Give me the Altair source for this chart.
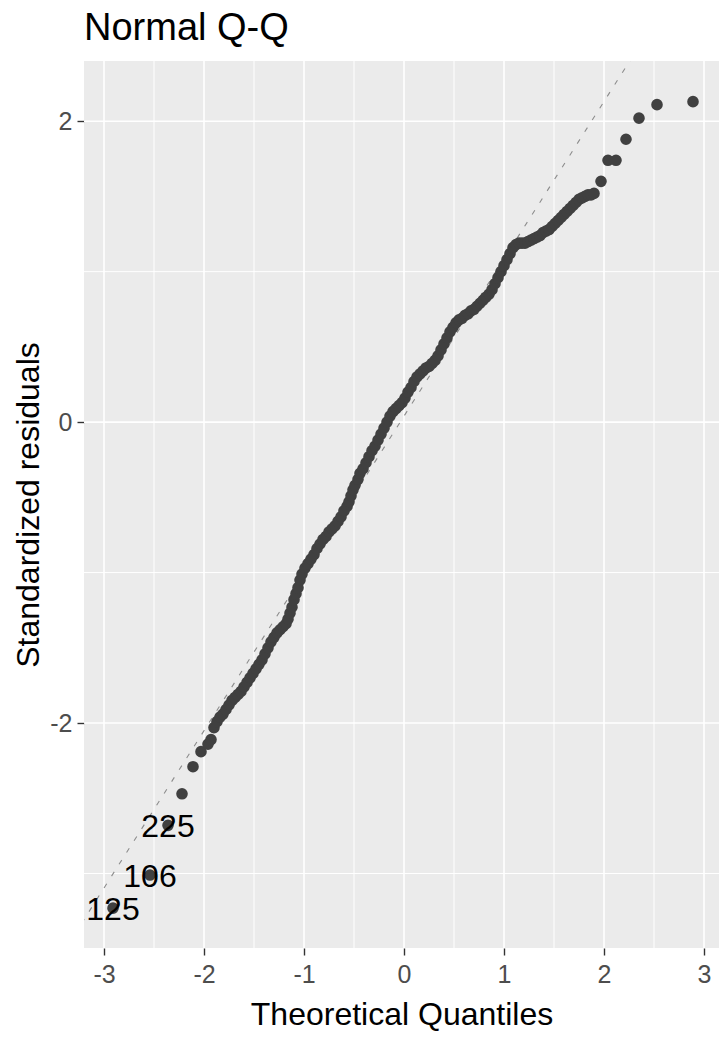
import altair as alt
import pandas as pd

# Theoretical quantiles (x) and standardized residuals (y)
qx = [-2.91, -2.54, -2.36, -2.22, -2.11, -2.03, -1.96, -1.93,
      -1.90, -1.87, -1.84, -1.81, -1.78, -1.75, -1.72, -1.69, -1.66, -1.63,
      -1.60, -1.57, -1.54, -1.51, -1.48, -1.45, -1.42, -1.39, -1.36, -1.33,
      -1.30, -1.27, -1.24, -1.21, -1.18, -1.16, -1.14, -1.12, -1.10, -1.08,
      -1.06, -1.04, -1.02, -0.99, -0.96, -0.93, -0.90, -0.87, -0.84, -0.81,
      -0.78, -0.75, -0.72, -0.69, -0.66, -0.63, -0.60, -0.57, -0.55, -0.53,
      -0.51, -0.49, -0.46, -0.44, -0.41, -0.38, -0.35, -0.32, -0.29, -0.26,
      -0.23, -0.20, -0.17, -0.14, -0.11, -0.08, -0.05, -0.02, 0.01, 0.04,
      0.07, 0.10, 0.13, 0.16, 0.19, 0.22, 0.25, 0.28, 0.31, 0.34,
      0.37, 0.40, 0.43, 0.46, 0.49, 0.52, 0.55, 0.58, 0.61, 0.64,
      0.67, 0.70, 0.73, 0.76, 0.79, 0.82, 0.85, 0.88, 0.91, 0.94,
      0.97, 1.00, 1.03, 1.06, 1.09, 1.12, 1.15, 1.18, 1.21, 1.24,
      1.27, 1.30, 1.33, 1.36, 1.39, 1.42, 1.45, 1.48, 1.51, 1.54,
      1.57, 1.60, 1.63, 1.66, 1.69, 1.72, 1.75, 1.78, 1.81, 1.84,
      1.87, 1.90, 1.97, 2.04, 2.12, 2.22, 2.35, 2.53, 2.89]
res = [-3.23, -3.01, -2.68, -2.47, -2.29, -2.19, -2.14, -2.11,
       -2.03, -1.99, -1.96, -1.94, -1.91, -1.88, -1.85, -1.83, -1.81, -1.79,
       -1.76, -1.73, -1.70, -1.67, -1.64, -1.61, -1.58, -1.54, -1.50, -1.46,
       -1.43, -1.40, -1.38, -1.36, -1.34, -1.31, -1.27, -1.23, -1.18, -1.14,
       -1.10, -1.05, -1.01, -0.97, -0.94, -0.91, -0.88, -0.84, -0.81, -0.78,
       -0.76, -0.73, -0.71, -0.69, -0.66, -0.63, -0.59, -0.56, -0.53, -0.49,
       -0.45, -0.42, -0.38, -0.34, -0.31, -0.27, -0.23, -0.19, -0.16, -0.12,
       -0.08, -0.04, 0.00, 0.04, 0.07, 0.09, 0.11, 0.13, 0.16, 0.20,
       0.23, 0.27, 0.30, 0.32, 0.34, 0.36, 0.37, 0.39, 0.41, 0.44,
       0.48, 0.52, 0.56, 0.60, 0.63, 0.66, 0.68, 0.69, 0.71, 0.72,
       0.74, 0.75, 0.77, 0.79, 0.81, 0.83, 0.85, 0.88, 0.92, 0.96,
       1.00, 1.04, 1.08, 1.12, 1.16, 1.18, 1.19, 1.19, 1.19, 1.20,
       1.21, 1.22, 1.23, 1.24, 1.26, 1.27, 1.28, 1.30, 1.32, 1.34,
       1.36, 1.38, 1.40, 1.42, 1.44, 1.46, 1.48, 1.49, 1.50, 1.51,
       1.51, 1.52, 1.60, 1.74, 1.74, 1.88, 2.02, 2.11, 2.13]

# labelled observations
lab_x = [-2.36, -2.54, -2.91]
lab_y = [-2.68, -3.01, -3.23]
lab_text = ["225", "106", "125"]

# reference (qq) line ends
line_x = [-3.3, 3.3]
line_y = [-3.41, 3.49]

x_ticks = [-3, -2, -1, 0, 1, 2, 3]
y_ticks = [-2, 0, 2]
x_minor = [-2.5, -1.5, -0.5, 0.5, 1.5, 2.5]
y_minor = [-3, -1, 1]

FONT = "Liberation Sans"
XDOM = [-3.2, 3.15]
YDOM = [-3.495, 2.40]

pts = pd.DataFrame({"x": qx, "y": res})
labs = pd.DataFrame({"x": lab_x, "y": lab_y, "t": lab_text})
ln = pd.DataFrame({"x": line_x, "y": line_y})

xs = alt.Scale(domain=XDOM, nice=False, zero=False)
ys = alt.Scale(domain=YDOM, nice=False, zero=False)

xaxis = alt.Axis(values=x_ticks, labelExpr="datum.value + ''", grid=False, domain=False,
                 tickColor="#333333", tickWidth=1.4, tickSize=7, labelFont=FONT,
                 labelFontSize=25, labelColor="#4D4D4D", labelPadding=7,
                 title="Theoretical Quantiles", titleFont=FONT, titleFontSize=32,
                 titleFontWeight="normal", titleColor="#000000", titlePadding=12)
yaxis = alt.Axis(values=y_ticks, labelExpr="datum.value + ''", grid=False, domain=False,
                 tickColor="#333333", tickWidth=1.4, tickSize=7, labelFont=FONT,
                 labelFontSize=25, labelColor="#4D4D4D", labelPadding=5,
                 title="Standardized residuals", titleFont=FONT, titleFontSize=32,
                 titleFontWeight="normal", titleColor="#000000", titlePadding=4)

gx_major = alt.Chart(pd.DataFrame({"v": x_ticks})).mark_rule(color="white", strokeWidth=1.6).encode(
    x=alt.X("v:Q", scale=xs, axis=xaxis))
gy_major = alt.Chart(pd.DataFrame({"v": y_ticks})).mark_rule(color="white", strokeWidth=1.6).encode(
    y=alt.Y("v:Q", scale=ys, axis=yaxis))
gx_minor = alt.Chart(pd.DataFrame({"v": x_minor})).mark_rule(color="white", strokeWidth=1.0).encode(
    x=alt.X("v:Q", scale=xs))
gy_minor = alt.Chart(pd.DataFrame({"v": y_minor})).mark_rule(color="white", strokeWidth=1.0).encode(
    y=alt.Y("v:Q", scale=ys))

qqline = alt.Chart(ln).mark_line(color="#8C8C8C", strokeWidth=1.1, strokeDash=[5, 9], clip=True).encode(
    x=alt.X("x:Q", scale=xs), y=alt.Y("y:Q", scale=ys))

points = alt.Chart(pts).mark_circle(size=135, color="#404040", opacity=1).encode(
    x=alt.X("x:Q", scale=xs), y=alt.Y("y:Q", scale=ys))

texts = alt.Chart(labs).mark_text(font=FONT, fontSize=32, color="#000000", align="center",
                                  baseline="middle", dy=2).encode(
    x=alt.X("x:Q", scale=xs), y=alt.Y("y:Q", scale=ys), text="t:N")

chart = alt.layer(gx_minor, gy_minor, gx_major, gy_major, qqline, points, texts).properties(
    width=635, height=887,
    background="white",
    title=alt.TitleParams("Normal Q-Q", anchor="start", frame="group", font=FONT, fontSize=38,
                          fontWeight="normal", color="#000000", offset=12),
    autosize=alt.AutoSizeParams(type="none"),
    padding={"left": 84, "top": 61, "right": 0, "bottom": 90},
).configure_view(fill="#EBEBEB", strokeWidth=0)

chart.save("out.html", embed_options={"renderer": "svg", "actions": False})
